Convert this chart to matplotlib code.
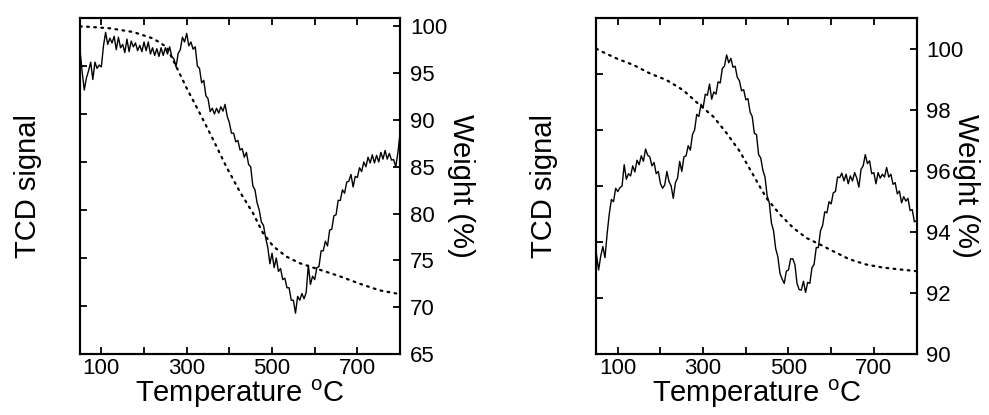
import numpy as np
import matplotlib.pyplot as plt

plt.rcParams['font.family'] = ['Liberation Sans', 'DejaVu Sans']
plt.rcParams['mathtext.fontset'] = 'custom'
plt.rcParams['mathtext.rm'] = 'Liberation Sans'

# Panel izquierdo: señal TCD (unidades arbitrarias, cada 5 grados) y peso (%)
t_tcd_a = list(range(50, 801, 5))
tcd_a = [6.33, 5.88, 5.50, 5.75, 5.90, 6.08, 5.72, 6.08, 5.95, 6.02,
         5.98, 6.42, 6.70, 6.45, 6.58, 6.48, 6.62, 6.34, 6.60, 6.38,
         6.45, 6.28, 6.56, 6.30, 6.52, 6.40, 6.48, 6.32, 6.43, 6.30,
         6.50, 6.32, 6.50, 6.25, 6.38, 6.22, 6.36, 6.20, 6.38, 6.22,
         6.38, 6.25, 6.40, 6.20, 6.15, 5.98, 6.26, 6.34, 6.60, 6.50,
         6.68, 6.42, 6.50, 6.35, 6.40, 6.00, 5.95, 5.65, 5.70, 5.38,
         5.32, 5.05, 5.12, 5.00, 5.12, 5.02, 5.15, 5.06, 5.20, 4.95,
         4.82, 4.60, 4.60, 4.42, 4.45, 4.25, 4.28, 4.10, 4.20, 3.95,
         3.90, 3.50, 3.42, 3.15, 3.00, 2.75, 2.68, 2.42, 2.22, 1.88,
         2.10, 1.80, 2.00, 1.72, 1.78, 1.55, 1.58, 1.38, 1.38, 1.12,
         1.12, 0.85, 1.20, 1.12, 1.26, 1.15, 1.28, 1.85, 1.45, 1.62,
         1.55, 1.80, 1.82, 2.15, 2.15, 2.35, 2.25, 2.58, 2.60, 2.88,
         2.90, 3.20, 3.20, 3.42, 3.35, 3.58, 3.60, 3.74, 3.48, 3.70,
         3.68, 3.88, 3.80, 4.00, 3.90, 4.10, 3.98, 4.15, 3.98, 4.14,
         4.00, 4.20, 4.06, 4.24, 4.06, 4.18, 4.04, 4.05, 3.90, 4.20,
         4.60]
t_w_a = [50, 58, 120, 175, 222, 253, 272, 300, 331, 362, 393, 425, 456, 479, 503, 534, 565,
         612, 659, 706, 752, 799]
w_a = [100.0, 100.0, 99.8, 99.4, 98.7, 97.8, 96.05, 93.4, 90.7, 87.9, 85.0, 82.3, 80.0, 77.9,
       76.5, 75.4, 74.7, 74.0, 73.3, 72.5, 71.8, 71.4]

# Panel derecho
t_tcd_b = list(range(50, 801, 5))
tcd_b = [1.78, 1.50, 1.75, 1.92, 1.72, 2.15, 2.50, 2.76, 2.72, 2.96,
         2.90, 2.97, 3.00, 3.38, 3.12, 3.22, 3.18, 3.36, 3.25, 3.46,
         3.38, 3.54, 3.44, 3.66, 3.55, 3.52, 3.36, 3.42, 3.22, 3.26,
         3.04, 2.96, 3.02, 3.26, 3.08, 3.00, 2.78, 3.06, 3.14, 3.44,
         3.26, 3.52, 3.54, 3.72, 3.64, 3.92, 4.00, 4.28, 4.24, 4.46,
         4.40, 4.64, 4.62, 4.82, 4.55, 4.68, 4.64, 4.86, 4.84, 5.10,
         5.14, 5.34, 5.20, 5.28, 5.12, 5.14, 4.94, 4.88, 4.70, 4.72,
         4.54, 4.56, 4.32, 4.24, 3.94, 3.92, 3.56, 3.50, 3.28, 3.16,
         2.82, 2.70, 2.34, 2.20, 1.88, 1.74, 1.44, 1.34, 1.26, 1.48,
         1.50, 1.70, 1.70, 1.60, 1.26, 1.15, 1.14, 1.30, 1.10, 1.28,
         1.26, 1.54, 1.60, 1.90, 1.90, 2.20, 2.30, 2.54, 2.52, 2.72,
         2.68, 2.88, 2.90, 3.16, 3.15, 3.23, 3.09, 3.21, 3.04, 3.18,
         3.09, 3.24, 3.14, 2.98, 3.30, 3.36, 3.56, 3.40, 3.45, 3.22,
         3.24, 3.04, 3.24, 3.14, 3.21, 3.16, 3.33, 3.16, 3.21, 3.03,
         3.06, 2.86, 2.91, 2.70, 2.81, 2.73, 2.78, 2.56, 2.58, 2.36,
         2.38]
t_w_b = [50, 55, 98, 137, 176, 214, 253, 292, 324, 355, 386, 417, 448, 480, 511, 542, 573,
         604, 643, 682, 721, 760, 795, 800]
w_b = [100.0, 99.95, 99.67, 99.46, 99.18, 98.97, 98.64, 98.15, 97.77, 97.23, 96.63, 95.87,
       95.11, 94.57, 94.13, 93.80, 93.59, 93.37, 93.10, 92.93, 92.83, 92.77, 92.72, 92.71]

x_ticks = [100, 200, 300, 400, 500, 600, 700]
x_labels = ['100', '', '300', '', '500', '', '700']

fig = plt.figure(figsize=(9.89, 4.15), dpi=100)

paneles = [
    (0.0809, t_tcd_a, tcd_a, t_w_a, w_a, 7, (65, 100.9), [65, 70, 75, 80, 85, 90, 95, 100], 24, 12),
    (0.6031, t_tcd_b, tcd_b, t_w_b, w_b, 6, (90, 101.0), [90, 92, 94, 96, 98, 100], 24, 4),
]

for left, tt, tcd, tw, w, ntop, wlim, wticks, pad_l, pad_r in paneles:
    ax = fig.add_axes([left, 0.147, 0.3236, 0.8096])
    ax2 = ax.twinx()
    ax2.plot(tw, w, color='black', lw=1.6, linestyle=(0, (0.8, 2.4)), dash_capstyle='round')
    ax.plot(tt, tcd, color='black', lw=1.0)
    ax.set_zorder(ax2.get_zorder() + 1)
    ax.patch.set_visible(False)

    ax.set_xlim(50, 800)
    ax.set_ylim(0, ntop)
    ax.set_yticks(range(1, ntop))
    ax.set_yticklabels([])
    ax.set_xticks(x_ticks)
    ax.set_xticklabels(x_labels)
    ax.tick_params(axis='x', direction='in', top=True, length=5, width=1.3, labelsize=16, pad=3)
    ax.tick_params(axis='y', direction='in', length=5, width=1.3)

    ax2.set_ylim(*wlim)
    ax2.set_yticks(wticks)
    ax2.tick_params(axis='y', direction='in', length=5, width=1.3, labelsize=16, pad=7)

    for a in (ax, ax2):
        for s in a.spines.values():
            s.set_linewidth(1.5)

    ax.set_xlabel('Temperature $^{\\mathrm{o}}$C', fontsize=21, labelpad=-1)
    ax.set_ylabel('TCD signal', fontsize=21, labelpad=pad_l)
    ax2.set_ylabel('Weight (%)', fontsize=21, rotation=270, labelpad=pad_r + 8)

fig.savefig('out.png', dpi=100)
